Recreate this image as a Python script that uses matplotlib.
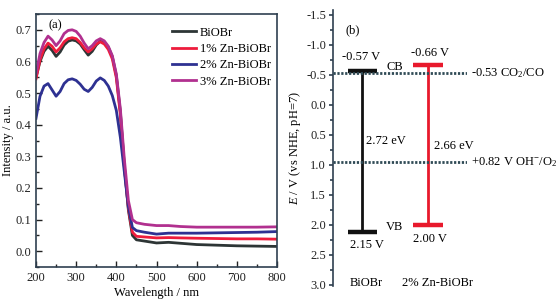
import matplotlib
matplotlib.use("Agg")
import matplotlib.pyplot as plt
from matplotlib.ticker import MultipleLocator

plt.rcParams['font.family'] = ['Liberation Serif', 'DejaVu Serif']
plt.rcParams['mathtext.fontset'] = 'custom'
plt.rcParams['mathtext.rm'] = 'Liberation Serif'
plt.rcParams['mathtext.it'] = 'Liberation Serif:italic'
plt.rcParams['font.size'] = 9

# ---------------- Panel (a) data ----------------
wl = [200, 210, 220, 230, 240, 250, 260, 270, 280, 290, 300, 310, 320, 330, 340,
      350, 360, 370, 380, 390, 400, 410, 420, 430, 440, 450, 470, 500, 530, 560,
      600, 650, 700, 750, 800]
biobr = [0.550, 0.600, 0.632, 0.648, 0.635, 0.616, 0.630, 0.652, 0.664, 0.668, 0.665, 0.655,
         0.637, 0.620, 0.632, 0.652, 0.664, 0.660, 0.645, 0.615, 0.555, 0.440, 0.270, 0.130,
         0.050, 0.036, 0.032, 0.026, 0.028, 0.025, 0.021, 0.019, 0.017, 0.016, 0.015]
zn1 = [0.545, 0.605, 0.640, 0.658, 0.648, 0.630, 0.643, 0.662, 0.672, 0.675, 0.672, 0.660,
       0.643, 0.630, 0.640, 0.655, 0.662, 0.655, 0.638, 0.608, 0.548, 0.432, 0.265, 0.135,
       0.060, 0.047, 0.045, 0.042, 0.043, 0.042, 0.041, 0.040, 0.039, 0.039, 0.038]
zn2 = [0.420, 0.490, 0.522, 0.530, 0.510, 0.490, 0.505, 0.530, 0.542, 0.545, 0.540, 0.528,
       0.512, 0.505, 0.518, 0.538, 0.548, 0.540, 0.522, 0.492, 0.445, 0.360, 0.250, 0.140,
       0.075, 0.065, 0.060, 0.054, 0.057, 0.057, 0.057, 0.058, 0.059, 0.060, 0.062]
zn3 = [0.560, 0.625, 0.660, 0.680, 0.668, 0.650, 0.665, 0.688, 0.698, 0.700, 0.695, 0.680,
       0.658, 0.640, 0.650, 0.665, 0.672, 0.665, 0.648, 0.618, 0.560, 0.450, 0.290, 0.160,
       0.100, 0.090, 0.085, 0.081, 0.081, 0.078, 0.076, 0.076, 0.076, 0.076, 0.077]
series_names = ['BiOBr', '1% Zn-BiOBr', '2% Zn-BiOBr', '3% Zn-BiOBr']
series_colors = ['#2d3535', '#ee1c3c', '#2e3192', '#b1308f']

# ---------------- Panel (b) data ----------------
samples = ['BiOBr', '2% Zn-BiOBr']
cb = [-0.57, -0.67]
vb = [2.12, 2.00]
cb_labels = ['-0.57 V', '-0.66 V']
vb_labels = ['2.15 V', '2.00 V']
gap_labels = ['2.72 eV', '2.66 eV']
bar_colors = ['#111111', '#e8192c']
ref_levels = [-0.53, 0.96]
ref_labels = ['-0.53 CO$_2$/CO', '+0.82 V OH$^{-}$/O$_2$']

fig = plt.figure(figsize=(5.56, 3.05), dpi=100)
spine_col = '#2f4050'

# ---- Panel (a)
ax = fig.add_axes([36/556, 1-267/305, 241/556, 253/305])
for y, name, c in zip([biobr, zn1, zn2, zn3], series_names, series_colors):
    ax.plot(wl, y, color=c, lw=2.0, label=name, solid_joinstyle='round')
ax.set_xlim(200, 800)
ax.set_ylim(-0.05, 0.75)
ax.xaxis.set_major_locator(MultipleLocator(100))
ax.xaxis.set_minor_locator(MultipleLocator(50))
ax.yaxis.set_major_locator(MultipleLocator(0.1))
ax.yaxis.set_minor_locator(MultipleLocator(0.05))
ax.tick_params(which='both', direction='in', colors='#222222', labelsize=9)
ax.tick_params(which='major', length=4, width=1)
ax.tick_params(which='minor', length=2, width=1)
for s in ax.spines.values():
    s.set_color(spine_col)
    s.set_linewidth(1.2)
ax.set_xlabel('Wavelength / nm', fontsize=9, labelpad=2)
ax.set_ylabel('Intensity / a.u.', fontsize=9, labelpad=1)
ax.text(0.05, 0.955, '(a)', transform=ax.transAxes, fontsize=9, va='center')
ax.legend(loc='upper right', frameon=False, fontsize=9, handlelength=1.9,
          handletextpad=0.3, labelspacing=0.35, borderaxespad=0.1,
          bbox_to_anchor=(1.0, 0.975))

# ---- Panel (b)
bx = fig.add_axes([333/556, 1-286/305, 134/556, 276/305])
bx.set_xlim(0, 1)
bx.set_ylim(3.02, -1.58)
xpos = [0.22, 0.71]
cap_half = 0.11
for i in range(len(samples)):
    x = xpos[i]
    bx.plot([x, x], [cb[i], vb[i]], color=bar_colors[i], lw=2.0, zorder=3)
    bx.plot([x - cap_half, x + cap_half], [cb[i], cb[i]], color=bar_colors[i], lw=3.2,
            solid_capstyle='butt', zorder=3)
    bx.plot([x - cap_half, x + cap_half], [vb[i], vb[i]], color=bar_colors[i], lw=3.2,
            solid_capstyle='butt', zorder=3)
for lvl in ref_levels:
    bx.plot([0, 1], [lvl, lvl], color='#2f4a55', lw=2.0, ls=(0, (0.8, 0.6)), zorder=4)

bx.text(1.03, ref_levels[0], ref_labels[0], va='center', ha='left', fontsize=9, clip_on=False)
bx.text(1.03, ref_levels[1], ref_labels[1], va='center', ha='left', fontsize=9, clip_on=False)
bx.text(0.21, -0.80, cb_labels[0], ha='center', va='center', fontsize=9)
bx.text(0.725, -0.87, cb_labels[1], ha='center', va='center', fontsize=9)
bx.text(0.46, -0.63, 'CB', ha='center', va='center', fontsize=9)
bx.text(0.46, 2.03, 'VB', ha='center', va='center', fontsize=9)
bx.text(0.25, 0.60, gap_labels[0], ha='left', va='center', fontsize=9)
bx.text(0.75, 0.68, gap_labels[1], ha='left', va='center', fontsize=9)
bx.text(0.25, 2.33, vb_labels[0], ha='center', va='center', fontsize=9)
bx.text(0.725, 2.23, vb_labels[1], ha='center', va='center', fontsize=9)
bx.text(0.15, -1.25, '(b)', ha='center', va='center', fontsize=9)
bx.text(0.25, 2.97, samples[0], ha='center', va='center', fontsize=9)
bx.text(0.78, 2.97, samples[1], ha='center', va='center', fontsize=9)

bx.yaxis.set_major_locator(MultipleLocator(0.5))
bx.yaxis.set_minor_locator(MultipleLocator(0.25))
bx.yaxis.set_major_formatter(matplotlib.ticker.FuncFormatter(lambda v, p: f'{v:.1f}'.replace('\u2212', '-')))
bx.set_xticks([])
for k in ['top', 'right', 'bottom']:
    bx.spines[k].set_visible(False)
bx.spines['left'].set_color(spine_col)
bx.spines['left'].set_linewidth(1.2)
bx.tick_params(axis='y', which='major', direction='out', length=3, width=1.2, colors=spine_col,
               labelcolor='#222222', labelsize=9, pad=2)
bx.tick_params(axis='y', which='minor', direction='out', length=2, width=1.2, colors=spine_col)
bx.set_ylabel('$E$ / V (vs NHE, pH=7)', fontsize=9, labelpad=2)

fig.savefig('out.png', dpi=100)
